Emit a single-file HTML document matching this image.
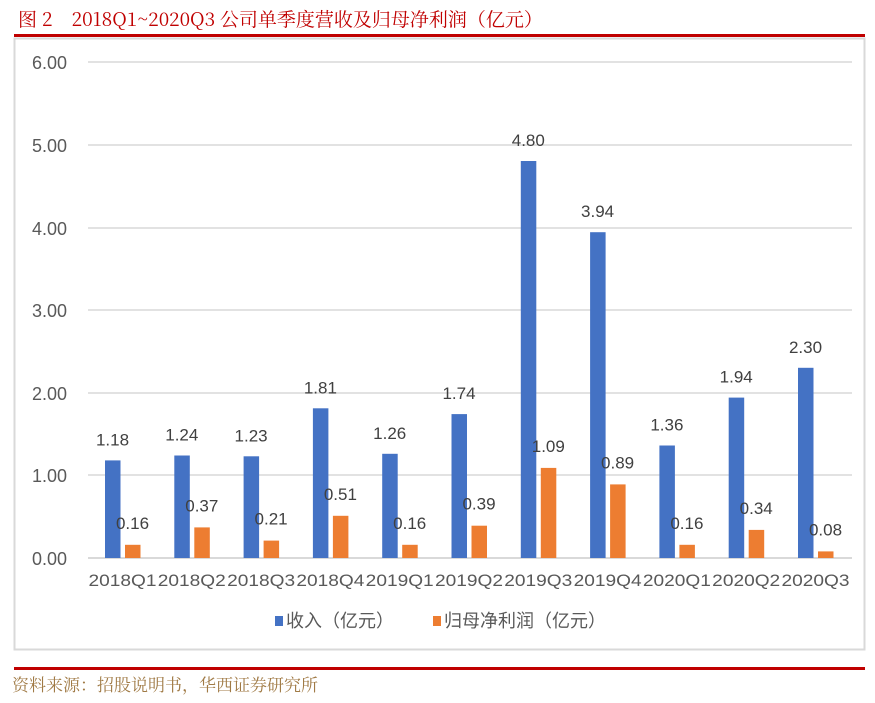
<!DOCTYPE html>
<html><head><meta charset="utf-8"><style>
body{margin:0;background:#fff;width:875px;height:698px;overflow:hidden}
</style></head><body>
<svg width="875" height="698" xmlns="http://www.w3.org/2000/svg">
<text x="18" y="26" font-family="'Noto Serif CJK SC','Liberation Serif',serif" font-size="19" fill="#C00000">图 2　2018Q1~2020Q3 公司单季度营收及归母净利润（亿元）</text>
<rect x="14" y="34" width="851" height="3" fill="#C00000"/>
<rect x="14.5" y="38.5" width="850" height="611" fill="none" stroke="#d9d9d9" stroke-width="2"/>
<g stroke="#d9d9d9" stroke-width="1.5">
<line x1="88" x2="852" y1="62" y2="62"/><line x1="88" x2="852" y1="145" y2="145"/>
<line x1="88" x2="852" y1="228" y2="228"/><line x1="88" x2="852" y1="310" y2="310"/>
<line x1="88" x2="852" y1="393" y2="393"/><line x1="88" x2="852" y1="475" y2="475"/>
</g>
<line x1="88" x2="852" y1="558" y2="558" stroke="#d9d9d9" stroke-width="2"/>
<g font-family="'Liberation Sans',sans-serif" font-size="18" fill="#595959" text-anchor="end">
<text x="67" y="69">6.00</text><text x="67" y="152">5.00</text><text x="67" y="235">4.00</text>
<text x="67" y="317">3.00</text><text x="67" y="400">2.00</text><text x="67" y="482">1.00</text><text x="67" y="565">0.00</text>
</g>
<g fill="#4472C4">
<rect x="105" y="460.4" width="15.5" height="97.6"/>
<rect x="174.3" y="455.5" width="15.5" height="102.5"/>
<rect x="243.6" y="456.3" width="15.5" height="101.7"/>
<rect x="312.9" y="408.3" width="15.5" height="149.7"/>
<rect x="382.2" y="453.8" width="15.5" height="104.2"/>
<rect x="451.5" y="414.1" width="15.5" height="143.9"/>
<rect x="520.8" y="161" width="15.5" height="397"/>
<rect x="590.1" y="232.2" width="15.5" height="325.8"/>
<rect x="659.4" y="445.5" width="15.5" height="112.5"/>
<rect x="728.7" y="397.6" width="15.5" height="160.4"/>
<rect x="798" y="367.8" width="15.5" height="190.2"/>
</g>
<g fill="#ED7D31">
<rect x="125" y="544.8" width="15.5" height="13.2"/>
<rect x="194.3" y="527.4" width="15.5" height="30.6"/>
<rect x="263.6" y="540.6" width="15.5" height="17.4"/>
<rect x="332.9" y="515.8" width="15.5" height="42.2"/>
<rect x="402.2" y="544.8" width="15.5" height="13.2"/>
<rect x="471.5" y="525.7" width="15.5" height="32.3"/>
<rect x="540.8" y="467.9" width="15.5" height="90.1"/>
<rect x="610.1" y="484.4" width="15.5" height="73.6"/>
<rect x="679.4" y="544.8" width="15.5" height="13.2"/>
<rect x="748.7" y="529.9" width="15.5" height="28.1"/>
<rect x="818" y="551.4" width="15.5" height="6.6"/>
</g>
<g font-family="'Liberation Sans',sans-serif" font-size="17" fill="#404040" text-anchor="middle">
<text x="112.5" y="445.4">1.18</text><text x="181.8" y="440.5">1.24</text><text x="251.1" y="441.3">1.23</text>
<text x="320.4" y="393.3">1.81</text><text x="389.7" y="438.8">1.26</text><text x="459" y="399.1">1.74</text>
<text x="528.3" y="146">4.80</text><text x="597.6" y="217.2">3.94</text><text x="666.9" y="430.5">1.36</text>
<text x="736.2" y="382.6">1.94</text><text x="805.5" y="352.8">2.30</text>
<text x="132.5" y="528.8">0.16</text><text x="201.8" y="511.4">0.37</text><text x="271.1" y="524.6">0.21</text>
<text x="340.4" y="499.8">0.51</text><text x="409.7" y="528.8">0.16</text><text x="479" y="509.7">0.39</text>
<text x="548.3" y="451.9">1.09</text><text x="617.6" y="468.4">0.89</text><text x="686.9" y="528.8">0.16</text>
<text x="756.2" y="513.9">0.34</text><text x="825.5" y="535.4">0.08</text>
</g>
<g font-family="'Liberation Sans',sans-serif" font-size="17" fill="#595959" text-anchor="middle" lengthAdjust="spacingAndGlyphs">
<text x="122.5" y="586" textLength="68" lengthAdjust="spacingAndGlyphs">2018Q1</text>
<text x="191.8" y="586" textLength="68" lengthAdjust="spacingAndGlyphs">2018Q2</text>
<text x="261.1" y="586" textLength="68" lengthAdjust="spacingAndGlyphs">2018Q3</text>
<text x="330.4" y="586" textLength="68" lengthAdjust="spacingAndGlyphs">2018Q4</text>
<text x="399.7" y="586" textLength="68" lengthAdjust="spacingAndGlyphs">2019Q1</text>
<text x="469" y="586" textLength="68" lengthAdjust="spacingAndGlyphs">2019Q2</text>
<text x="538.3" y="586" textLength="68" lengthAdjust="spacingAndGlyphs">2019Q3</text>
<text x="607.6" y="586" textLength="68" lengthAdjust="spacingAndGlyphs">2019Q4</text>
<text x="676.9" y="586" textLength="68" lengthAdjust="spacingAndGlyphs">2020Q1</text>
<text x="746.2" y="586" textLength="68" lengthAdjust="spacingAndGlyphs">2020Q2</text>
<text x="815.5" y="586" textLength="68" lengthAdjust="spacingAndGlyphs">2020Q3</text>
</g>
<rect x="275" y="616" width="8" height="10" fill="#4472C4"/>
<rect x="433" y="616" width="8" height="10" fill="#ED7D31"/>
<g font-family="'Liberation Sans','Noto Sans CJK SC',sans-serif" font-size="18" fill="#595959">
<text x="286" y="627">收入（亿元）</text><text x="444" y="627">归母净利润（亿元）</text>
</g>
<rect x="14" y="667" width="851" height="3" fill="#C00000"/>
<text x="12" y="691" font-family="'Noto Serif CJK SC',serif" font-size="17" fill="#A07A45">资料来源：招股说明书，华西证券研究所</text>
</svg>
</body></html>
